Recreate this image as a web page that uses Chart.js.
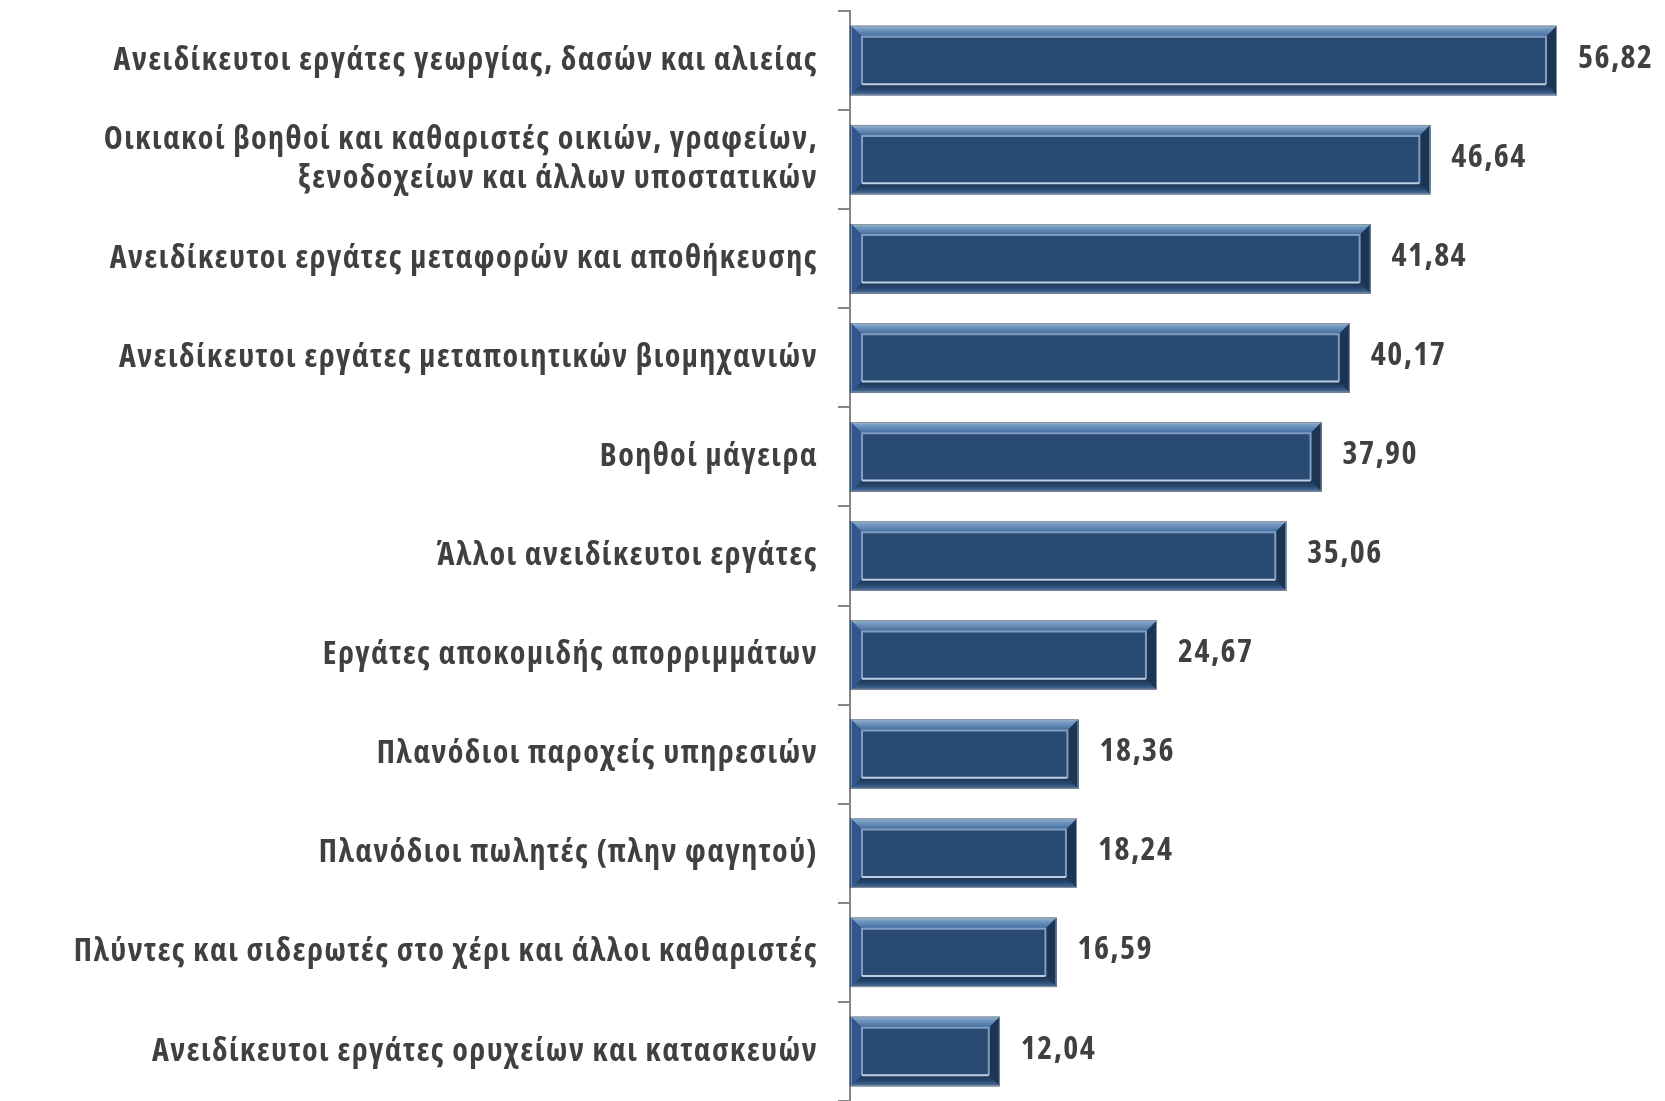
<!DOCTYPE html>
<html lang="el">
<head>
    <meta charset="UTF-8">
    <title>Ανειδίκευτοι εργάτες</title>
    <style>
        html, body {
            margin: 0;
            padding: 0;
            background: #ffffff;
        }

        #chartContainer {
            width: 1665px;
            height: 1101px;
        }
    </style>
    <script src="https://cdn.jsdelivr.net/npm/chart.js"></script>
</head>
<body>
    <div id="chartContainer">
        <canvas id="barChart"></canvas>
    </div>

    <script>
        // Κατηγορίες (από πάνω προς τα κάτω)
        const categories = [
            "Ανειδίκευτοι εργάτες γεωργίας, δασών και αλιείας",
            ["Οικιακοί βοηθοί και καθαριστές οικιών, γραφείων,", "ξενοδοχείων και άλλων υποστατικών"],
            "Ανειδίκευτοι εργάτες μεταφορών και αποθήκευσης",
            "Ανειδίκευτοι εργάτες μεταποιητικών βιομηχανιών",
            "Βοηθοί μάγειρα",
            "Άλλοι ανειδίκευτοι εργάτες",
            "Εργάτες αποκομιδής απορριμμάτων",
            "Πλανόδιοι παροχείς υπηρεσιών",
            "Πλανόδιοι πωλητές (πλην φαγητού)",
            "Πλύντες και σιδερωτές στο χέρι και άλλοι καθαριστές",
            "Ανειδίκευτοι εργάτες ορυχείων και κατασκευών"
        ];

        const values = [56.82, 46.64, 41.84, 40.17, 37.90, 35.06, 24.67, 18.36, 18.24, 16.59, 12.04];

        const FONT = "'Open Sans', sans-serif";
        const TEXT_COLOR = "#404040";
        const AXIS_COLOR = "#868686";

        // Στενή παραλλαγή αν υπάρχει + μικρό letter-spacing ώστε η 1η ετικέτα να πιάνει ~703px
        const m = document.createElement("canvas").getContext("2d");
        m.font = "bold 100px " + FONT;
        const wNormal = m.measureText(categories[0]).width;
        m.font = "bold condensed 100px " + FONT;
        const wCond = m.measureText(categories[0]).width;
        const useCond = m.font.indexOf("100px") >= 0 && wCond < wNormal * 0.95;
        const WEIGHT = useCond ? "bold condensed" : "bold";
        const SIZE = useCond ? 32 : Math.round(703 / wNormal * 1000) / 10;
        const LETTER = useCond ? Math.max(0, (703 - wCond * SIZE / 100) / (categories[0].length - 1)) : 0;

        const spacingPlugin = {
            id: "spacing",
            beforeDraw(chart) {
                chart.ctx.letterSpacing = LETTER.toFixed(2) + "px";
            }
        };

        // Σχεδίαση ανάγλυφου πλαισίου πάνω σε κάθε μπάρα
        const bevelPlugin = {
            id: "bevel",
            afterDatasetsDraw(chart) {
                const ctx = chart.ctx;
                const meta = chart.getDatasetMeta(0);
                meta.data.forEach(bar => {
                    const p = bar.getProps(["x", "y", "base", "height"], true);
                    const L = p.base + 1, R = p.x;
                    const T = p.y - p.height / 2, B = p.y + p.height / 2;
                    const b = 11;

                    ctx.save();
                    // πρόσοψη
                    ctx.fillStyle = "#294a72";
                    ctx.fillRect(L, T, R - L, B - T);

                    // πάνω
                    let g = ctx.createLinearGradient(0, T, 0, T + b);
                    g.addColorStop(0, "#b4d2ee");
                    g.addColorStop(0.2, "#7aa0c6");
                    g.addColorStop(1, "#42699a");
                    ctx.fillStyle = g;
                    ctx.beginPath();
                    ctx.moveTo(L, T); ctx.lineTo(R, T); ctx.lineTo(R - b, T + b); ctx.lineTo(L + b, T + b);
                    ctx.closePath(); ctx.fill();

                    // αριστερά
                    ctx.fillStyle = "#30568a";
                    ctx.beginPath();
                    ctx.moveTo(L, T); ctx.lineTo(L + b, T + b); ctx.lineTo(L + b, B - b); ctx.lineTo(L, B);
                    ctx.closePath(); ctx.fill();

                    // δεξιά
                    ctx.fillStyle = "#1c3555";
                    ctx.beginPath();
                    ctx.moveTo(R, T); ctx.lineTo(R, B); ctx.lineTo(R - b, B - b); ctx.lineTo(R - b, T + b);
                    ctx.closePath(); ctx.fill();

                    // κάτω
                    g = ctx.createLinearGradient(0, B - b, 0, B);
                    g.addColorStop(0, "#1a3150");
                    g.addColorStop(0.55, "#2a4a72");
                    g.addColorStop(1, "#4d72a0");
                    ctx.fillStyle = g;
                    ctx.beginPath();
                    ctx.moveTo(L, B); ctx.lineTo(R, B); ctx.lineTo(R - b, B - b); ctx.lineTo(L + b, B - b);
                    ctx.closePath(); ctx.fill();

                    // εσωτερικό περίγραμμα
                    ctx.lineWidth = 2;
                    ctx.strokeStyle = "#7f9dc0";
                    ctx.beginPath();
                    ctx.moveTo(L + b, B - b); ctx.lineTo(L + b, T + b); ctx.lineTo(R - b, T + b); ctx.lineTo(R - b, B - b);
                    ctx.stroke();
                    ctx.strokeStyle = "#bcd0e6";
                    ctx.beginPath();
                    ctx.moveTo(L + b, B - b); ctx.lineTo(R - b, B - b);
                    ctx.stroke();

                    // εξωτερικό περίγραμμα
                    ctx.lineWidth = 1;
                    ctx.strokeStyle = "#8a8f96";
                    ctx.strokeRect(L + 0.5, T + 0.5, R - L - 1, B - T - 1);
                    ctx.restore();
                });
            }
        };

        // Ετικέτες τιμών
        const valueLabels = {
            id: "valueLabels",
            afterDatasetsDraw(chart) {
                const ctx = chart.ctx;
                const meta = chart.getDatasetMeta(0);
                ctx.save();
                ctx.font = WEIGHT + " " + SIZE + "px " + FONT;
                ctx.fillStyle = TEXT_COLOR;
                ctx.textAlign = "left";
                ctx.textBaseline = "middle";
                meta.data.forEach((bar, i) => {
                    const label = values[i].toFixed(2).replace(".", ",");
                    ctx.fillText(label, bar.x + 21, bar.y - 2);
                });
                ctx.restore();
            }
        };

        const ctx = document.getElementById("barChart").getContext("2d");
        new Chart(ctx, {
            type: "bar",
            data: {
                labels: categories,
                datasets: [{
                    data: values,
                    backgroundColor: "#294a72",
                    borderWidth: 0,
                    barPercentage: 0.7,
                    categoryPercentage: 1.0
                }]
            },
            options: {
                indexAxis: "y",
                responsive: true,
                maintainAspectRatio: false,
                animation: false,
                layout: {
                    padding: { top: 11, right: 0, bottom: 0, left: 0 }
                },
                plugins: {
                    legend: { display: false },
                    tooltip: { enabled: false }
                },
                scales: {
                    x: {
                        display: false,
                        min: 0,
                        max: 65.5
                    },
                    y: {
                        afterFit(scale) {
                            scale.width = 850;
                            scale.paddingTop = 0;
                            scale.paddingBottom = 0;
                        },
                        border: { display: true, color: AXIS_COLOR, width: 2 },
                        grid: {
                            drawOnChartArea: false,
                            drawTicks: true,
                            tickLength: 12,
                            color: AXIS_COLOR,
                            lineWidth: 2,
                            offset: true
                        },
                        ticks: {
                            padding: 20,
                            color: TEXT_COLOR,
                            font: { family: FONT, size: SIZE, weight: WEIGHT, lineHeight: 39 / SIZE }
                        }
                    }
                }
            },
            plugins: [spacingPlugin, bevelPlugin, valueLabels]
        });
    </script>
</body>
</html>
